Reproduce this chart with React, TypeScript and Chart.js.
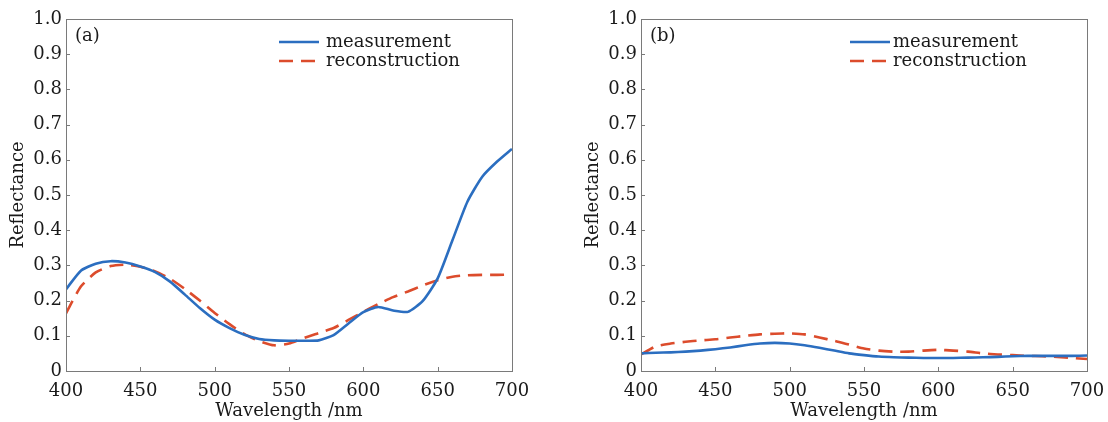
import React, { useEffect, useRef } from 'react';
import { Chart, registerables } from 'chart.js';

Chart.register(...registerables);

const wavelengths = [400, 410, 420, 430, 440, 450, 460, 470, 480, 490, 500, 510, 520, 530, 540, 550, 560, 570, 580, 590, 600, 610, 620, 630, 640, 650, 660, 670, 680, 690, 700];

const measurementA = [0.232, 0.285, 0.305, 0.312, 0.308, 0.297, 0.281, 0.254, 0.217, 0.179, 0.146, 0.122, 0.103, 0.091, 0.087, 0.086, 0.086, 0.087, 0.102, 0.135, 0.167, 0.182, 0.172, 0.168, 0.199, 0.263, 0.372, 0.481, 0.552, 0.595, 0.631];
const reconstructionA = [0.164, 0.24, 0.28, 0.298, 0.302, 0.296, 0.283, 0.262, 0.233, 0.2, 0.165, 0.133, 0.105, 0.085, 0.073, 0.078, 0.094, 0.108, 0.122, 0.145, 0.168, 0.19, 0.21, 0.226, 0.243, 0.258, 0.268, 0.272, 0.273, 0.273, 0.274];

const measurementB = [0.05, 0.052, 0.053, 0.055, 0.058, 0.062, 0.067, 0.073, 0.078, 0.08, 0.078, 0.073, 0.066, 0.058, 0.05, 0.045, 0.041, 0.039, 0.038, 0.037, 0.037, 0.037, 0.038, 0.039, 0.04, 0.042, 0.043, 0.043, 0.043, 0.043, 0.044];
const reconstructionB = [0.047, 0.07, 0.078, 0.083, 0.087, 0.09, 0.095, 0.1, 0.104, 0.106, 0.107, 0.104, 0.095, 0.086, 0.075, 0.064, 0.058, 0.055, 0.055, 0.058, 0.06, 0.058, 0.055, 0.05, 0.047, 0.045, 0.043, 0.042, 0.04, 0.037, 0.034];

const xTicks = [400, 450, 500, 550, 600, 650, 700];
const yTicks = [0, 0.1, 0.2, 0.3, 0.4, 0.5, 0.6, 0.7, 0.8, 0.9, 1.0];
const seriesLabels = ['measurement', 'reconstruction'];
const xTitle = 'Wavelength /nm';
const yTitle = 'Reflectance';

const BLUE = '#2b6ec0';
const RED = '#dc4c2c';
const TEXT = '#1a1a1a';
const FRAME = '#7a7a7a';
const FONT = "'DejaVu Serif', serif";
const FS = 18;

const decorPlugin = {
  id: 'decor',
  afterDatasetsDraw(chart: any, _args: any, opts: any) {
    const ctx = chart.ctx;
    const { left, right, top, bottom } = chart.chartArea;
    ctx.save();
    ctx.strokeStyle = FRAME;
    ctx.lineWidth = 1;
    ctx.strokeRect(Math.round(left) + 0.5, Math.round(top) + 0.5, Math.round(right - left), Math.round(bottom - top));
    // inward ticks
    ctx.beginPath();
    const xs = chart.scales.x;
    xTicks.forEach((v) => {
      const px = Math.round(xs.getPixelForValue(v)) + 0.5;
      ctx.moveTo(px, bottom);
      ctx.lineTo(px, bottom - 4);
    });
    const ys = chart.scales.y;
    yTicks.forEach((v) => {
      const py = Math.round(ys.getPixelForValue(v)) + 0.5;
      ctx.moveTo(left, py);
      ctx.lineTo(left + 4, py);
    });
    ctx.stroke();

    ctx.fillStyle = TEXT;
    ctx.font = `${FS}px ${FONT}`;

    // x tick labels
    ctx.textAlign = 'center';
    ctx.textBaseline = 'middle';
    xTicks.forEach((v) => {
      ctx.fillText(String(v), xs.getPixelForValue(v), bottom + 20);
    });
    // x title
    ctx.fillText(xTitle, (left + right) / 2, bottom + 40);
    // y title
    ctx.save();
    ctx.translate(18, (top + bottom) / 2);
    ctx.rotate(-Math.PI / 2);
    ctx.fillText(yTitle, 0, 0);
    ctx.restore();

    // panel label
    ctx.textBaseline = 'middle';
    ctx.textAlign = 'left';
    ctx.fillText(opts.panel, left + 9, top + 17);

    // legend
    chart.data.datasets.forEach((ds: any, i: number) => {
      const y = top + 23 + i * 19;
      const x0 = left + opts.legendX;
      ctx.save();
      ctx.strokeStyle = ds.borderColor;
      ctx.lineWidth = 2.5;
      ctx.setLineDash(ds.borderDash || []);
      ctx.beginPath();
      ctx.moveTo(x0, y);
      ctx.lineTo(x0 + 40, y);
      ctx.stroke();
      ctx.restore();
      ctx.fillStyle = TEXT;
      ctx.font = `${FS}px ${FONT}`;
      ctx.textBaseline = 'middle';
      ctx.textAlign = 'left';
      ctx.fillText(ds.label, x0 + opts.textGap, y);
    });
    ctx.restore();
  },
};

function makeConfig(meas: number[], recon: number[], panel: string, rightPad: number, legendX: number, textGap: number) {
  return {
    type: 'line',
    data: {
      datasets: [
        {
          label: seriesLabels[0],
          data: wavelengths.map((w, i) => ({ x: w, y: meas[i] })),
          borderColor: BLUE,
          borderWidth: 2.6,
          pointRadius: 0,
          tension: 0.2,
          fill: false,
        },
        {
          label: seriesLabels[1],
          data: wavelengths.map((w, i) => ({ x: w, y: recon[i] })),
          borderColor: RED,
          borderWidth: 2.6,
          borderDash: [14, 8],
          pointRadius: 0,
          tension: 0.2,
          fill: false,
        },
      ],
    },
    options: {
      responsive: false,
      animation: false,
      devicePixelRatio: 1,
      layout: { padding: { left: 0, top: 19, right: rightPad, bottom: 0 } },
      plugins: {
        legend: { display: false },
        tooltip: { enabled: false },
        decor: { panel, legendX, textGap },
      },
      scales: {
        x: {
          type: 'linear',
          min: 400,
          max: 700,
          grid: { display: false, drawTicks: false },
          border: { display: false },
          afterBuildTicks: (s: any) => {
            s.ticks = xTicks.map((v) => ({ value: v }));
          },
          afterFit: (s: any) => {
            s.height = 51;
            s.paddingLeft = 0;
            s.paddingRight = 0;
          },
          ticks: { display: false },
          title: { display: false },
        },
        y: {
          type: 'linear',
          min: 0,
          max: 1,
          grid: { display: false, drawTicks: false },
          border: { display: false },
          afterBuildTicks: (s: any) => {
            s.ticks = yTicks.map((v) => ({ value: v }));
          },
          afterFit: (s: any) => {
            s.width = 66;
            s.paddingTop = 0;
            s.paddingBottom = 0;
          },
          ticks: {
            padding: 4,
            color: TEXT,
            font: { family: FONT, size: FS },
            callback: (v: any) => (v === 0 ? '0' : Number(v).toFixed(1)),
          },
          title: { display: false },
        },
      },
    },
    plugins: [decorPlugin],
  };
}

function Panel(props: { meas: number[]; recon: number[]; panel: string; left: number; width: number; rightPad: number; legendX: number; textGap: number }) {
  const ref = useRef<HTMLCanvasElement | null>(null);
  useEffect(() => {
    if (!ref.current) return;
    const chart = new Chart(ref.current, makeConfig(props.meas, props.recon, props.panel, props.rightPad, props.legendX, props.textGap) as any);
    return () => chart.destroy();
  }, []);
  return (
    <div style={{ position: 'absolute', left: props.left, top: 0, width: props.width, height: 422 }}>
      <canvas ref={ref} width={props.width} height={422} style={{ display: 'block' }} />
    </div>
  );
}

export default function App() {
  return (
    <div style={{ position: 'absolute', left: 0, top: 0, width: 1108, height: 422, background: '#fff', overflow: 'hidden' }}>
      <Panel meas={measurementA} recon={reconstructionA} panel="(a)" left={0} width={545} rightPad={33} legendX={213} textGap={47} />
      <Panel meas={measurementB} recon={reconstructionB} panel="(b)" left={575} width={533} rightPad={21} legendX={209} textGap={43} />
    </div>
  );
}
